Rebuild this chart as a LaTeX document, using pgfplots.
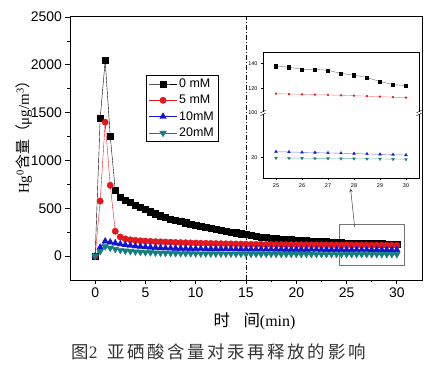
\documentclass[border=0pt]{standalone}
\usepackage{pgfplots}
\pgfplotsset{compat=1.18}
\usepackage{pgfplotstable}
\usepackage{fontspec}
\setmainfont{Liberation Sans}
\newfontfamily\tnr{Liberation Serif}
\newfontfamily\cjk{Noto Sans CJK SC}
\definecolor{cred}{RGB}{225,25,30}
\definecolor{cblue}{RGB}{20,20,205}
\definecolor{cteal}{RGB}{20,125,125}

\pgfplotstableread{
t v
0 0
0.5 1440
1 2045
1.5 1255
2 690
2.5 615
3 585
3.5 560
4 535
4.5 510
5 487
5.5 465
6 443
6.5 422
7 405
7.5 390
8 376
8.5 362
9 349
9.5 336
10 324
10.5 313
11 302
11.5 291
12 281
12.5 271
13 262
13.5 253
14 244
14.5 235
15 226
15.5 215
16 207
16.5 200
17 194
17.5 189
18 184
18.5 180
19 176
19.5 172
20 168
20.5 165
21 162
21.5 159
22 156
22.5 153
23 150
23.5 147
24 144
24.5 141
25 137.8
25.5 137.0
26 135.3
26.5 135.3
27 134.5
27.5 132.0
28 130.6
28.5 128.7
29 125.4
29.5 123.0
30 122.1
}\tblack

\pgfplotstableread{
t v
0 0
0.5 575
1 1400
1.5 740
2 260
2.5 200
3 180
3.5 170
4 165
4.5 160
5 157
5.5 154
6 151
6.5 149
7 147
7.5 145
8 143
8.5 141
9 140
9.5 138
10 137
10.5 135
11 134
11.5 133
12 131
12.5 130
13 129
13.5 128
14 127
14.5 126
15 125
15.5 124
16 123.5
16.5 123
17 122
17.5 121.5
18 121
18.5 120.5
19 120
19.5 119.5
20 119
20.5 118.5
21 118
21.5 117.7
22 117.3
22.5 117
23 116.7
23.5 116.3
24 116
24.5 115.8
25 115.6
25.5 115.3
26 115.1
26.5 114.8
27 114.6
27.5 114.3
28 114.0
28.5 113.6
29 113.2
29.5 112.8
30 112.4
}\tred

\pgfplotstableread{
t v
0 0
0.5 90
1 155
1.5 145
2 135
2.5 125
3 117
3.5 110
4 104
4.5 99
5 95
5.5 91
6 88
6.5 85
7 83
7.5 81
8 80
8.5 79
9 78
9.5 77
10 76.5
10.5 76
11 75.5
11.5 75
12 74.5
12.5 74
13 73.6
13.5 73.2
14 72.8
14.5 72.4
15 72
15.5 71.7
16 71.4
16.5 71.1
17 70.8
17.5 70.5
18 70.2
18.5 69.9
19 69.6
19.5 69.3
20 69
20.5 68.7
21 68.4
21.5 68.1
22 67.8
22.5 67.5
23 67.2
23.5 66.9
24 66.6
24.5 66.3
25 66
25.5 65.8
26 65.6
26.5 65.4
27 65.2
27.5 65
28 64.8
28.5 64.6
29 64.4
29.5 64.2
30 64
}\tblue

\pgfplotstableread{
t v
0 0
0.5 50
1 100
1.5 85
2 72
2.5 62
3 55
3.5 50
4 46
4.5 42
5 39
5.5 37
6 35
6.5 33
7 31.5
7.5 30
8 29
8.5 28
9 27
9.5 26.5
10 26
10.5 25.5
11 25
11.5 24.6
12 24.2
12.5 23.8
13 23.5
13.5 23.2
14 22.9
14.5 22.6
15 22.3
15.5 22.1
16 21.9
16.5 21.7
17 21.5
17.5 21.3
18 21.1
18.5 21
19 20.9
19.5 20.8
20 20.7
20.5 20.6
21 20.5
21.5 20.4
22 20.3
22.5 20.2
23 20.1
23.5 20
24 19.95
24.5 19.9
25 19.8
25.5 19.7
26 19.6
26.5 19.5
27 19.4
27.5 19.3
28 19.2
28.5 19.1
29 19.0
29.5 18.8
30 18.7
}\tteal

\pgfplotstableread{
t v
25 24.9
25.5 24.7
26 24.4
26.5 24.2
27 23.9
27.5 23.7
28 23.4
28.5 23.1
29 22.8
29.5 22.5
30 22.2
}\tblueinset

\newcommand\cs{\hspace{2.6bp}}

\begin{document}
\begin{tikzpicture}
\path[use as bounding box] (-70bp,-86bp) rectangle (368bp,280bp);
\begin{axis}[at={(0bp,0bp)}, anchor=south west, scale only axis,
  width=352bp, height=263bp,
  xmin=-2.5, xmax=32.5, ymin=-250, ymax=2500,
  xtick={0,5,...,30}, ytick={0,500,...,2500},
  minor x tick num=1, minor y tick num=1,
  tick align=outside, xtick pos=left, ytick pos=left,
  major tick length=4.5bp, minor tick length=2.5bp,
  tick style={black, line width=0.8pt},
  axis line style={line width=1pt},
  ticklabel style={font=\fontsize{14}{16}\selectfont},
  /pgf/number format/assume math mode=true,
  /pgf/number format/1000 sep={},
  legend style={at={(0.216,0.779)}, anchor=north west, draw=black, line width=0.6pt,
    font=\fontsize{12.5}{13}\selectfont, inner xsep=2.5pt, inner ysep=1.5pt, row sep=2.2pt,
    legend cell align=left},
  legend image code/.code={\draw[mark repeat=2,mark phase=2] plot coordinates {(0bp,0bp) (14bp,0bp) (28bp,0bp)};},
]
\addplot[black, line width=0.4pt, mark=square*, mark size=3.1, mark options={solid,black}] table[x=t,y=v]{\tblack};
\addplot[cred, line width=0.4pt, mark=*, mark size=3.2, mark options={solid,cred}] table[x=t,y=v]{\tred};
\addplot[cblue, line width=0.4pt, mark=triangle*, mark size=3.8, mark options={solid,cblue}] table[x=t,y=v]{\tblue};
\addplot[cteal, line width=0.4pt, mark=triangle*, mark size=3.8, mark options={solid,cteal,rotate=180}] table[x=t,y=v]{\tteal};
\legend{0 mM, 5 mM, 10mM, 20mM}
\draw[black, line width=0.8pt, dash pattern=on 5bp off 2bp on 1bp off 2bp] (axis cs:15,-250) -- (axis cs:15,2500);
\draw[black!55, line width=0.7pt] (axis cs:24.3,-97) rectangle (axis cs:30.7,330);
\draw[black!75, line width=0.5pt, -stealth] (axis cs:25.8,305) -- (axis cs:25.4,705);
\end{axis}

% inset upper
\begin{axis}[at={(193bp,167bp)}, anchor=south west, scale only axis,
  width=156bp, height=61bp,
  xmin=24.5, xmax=30.5, ymin=100, ymax=149.3,
  xtick=\empty, ytick={100,120,140}, ytick pos=left,
  tick align=outside, major tick length=2bp,
  tick style={black, line width=0.5pt},
  axis line style={draw=none},
  ticklabel style={font=\fontsize{5.5}{6}\selectfont},
  /pgf/number format/assume math mode=true,
]
\addplot[black!55, line width=0.4pt, mark=square*, mark size=1.6, mark options={black}, restrict x to domain=24.9:30.1] table[x=t,y=v]{\tblack};
\addplot[cred!60, line width=0.4pt, mark=*, mark size=1.0, mark options={cred}, restrict x to domain=24.9:30.1] table[x=t,y=v]{\tred};
\end{axis}

% inset lower
\begin{axis}[at={(193bp,102bp)}, anchor=south west, scale only axis,
  width=156bp, height=65bp,
  xmin=24.5, xmax=30.5, ymin=3.4, ymax=56.6,
  xtick={25,...,30}, minor x tick num=1, ytick={20},
  xtick pos=left, ytick pos=left,
  tick align=outside, major tick length=2bp, minor tick length=1.2bp,
  tick style={black, line width=0.5pt},
  axis line style={draw=none},
  ticklabel style={font=\fontsize{5.5}{6}\selectfont},
  /pgf/number format/assume math mode=true,
]
\addplot[cblue!60, line width=0.4pt, mark=triangle*, mark size=1.6, mark options={cblue}] table[x=t,y=v]{\tblueinset};
\addplot[cteal!60, line width=0.4pt, mark=triangle*, mark size=1.6, mark options={cteal,rotate=180}, restrict x to domain=24.9:30.1] table[x=t,y=v]{\tteal};
\end{axis}

\draw[line width=0.8pt] (193bp,102bp) rectangle (349bp,228bp);
\fill[white] (191bp,165.8bp) rectangle (195bp,168.2bp);
\draw[line width=0.4pt] (190.5bp,164.3bp) -- (195.5bp,166.8bp);
\draw[line width=0.4pt] (190.5bp,167.2bp) -- (195.5bp,169.7bp);
\fill[white] (347bp,165.8bp) rectangle (351bp,168.2bp);
\draw[line width=0.4pt] (346.5bp,164.3bp) -- (351.5bp,166.8bp);
\draw[line width=0.4pt] (346.5bp,167.2bp) -- (351.5bp,169.7bp);

% y label
\node[rotate=90, font=\fontsize{15}{18}\selectfont, inner sep=0pt] at (-46bp,146.5bp)
  {{\tnr Hg\textsuperscript{0}}{\cjk 含量（}{\tnr μg/m\textsuperscript{3}}{\cjk ）}};
% x label
\node[font=\fontsize{16.5}{19}\selectfont, inner sep=0pt] at (184.5bp,-41bp)
  {{\cjk 时}\hspace{13.5bp}{\cjk 间}{\tnr\fontsize{16}{19}\selectfont (min)}};
% caption
\node[font=\fontsize{17.5}{20}\selectfont, inner sep=0pt, text=black!80] at (148.5bp,-72bp)
  {{\cjk 图}{\tnr 2}\hspace{10bp}{\cjk 亚\cs 硒\cs 酸\cs 含\cs 量\cs 对\cs 汞\cs 再\cs 释\cs 放\cs 的\cs 影\cs 响}};
\end{tikzpicture}
\end{document}
